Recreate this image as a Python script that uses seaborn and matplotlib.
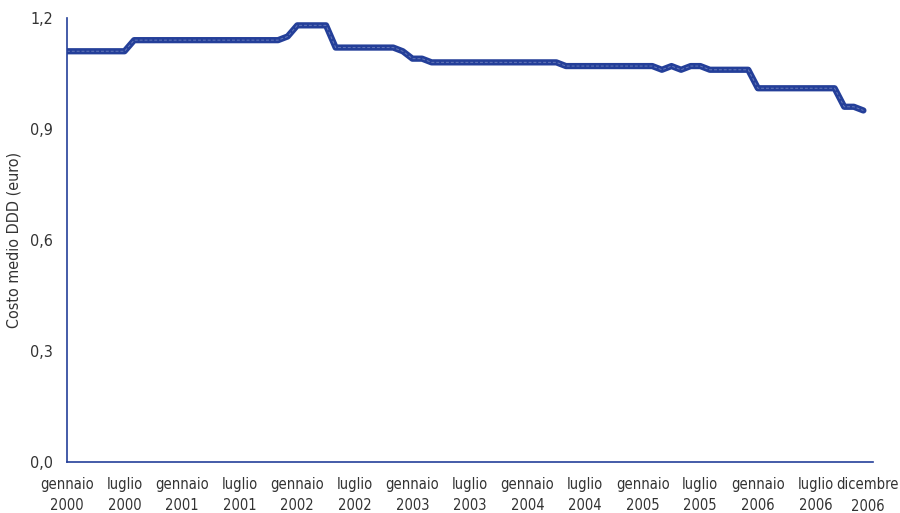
import seaborn as sns
import pandas as pd
import matplotlib.pyplot as plt

# Monthly average cost per DDD, Jan 2000 - Dec 2006
months = list(range(84))
cost = ([1.11] * 7 + [1.14] * 16 + [1.15] + [1.18] * 4 + [1.12] * 7 + [1.11]
        + [1.09] * 2 + [1.08] * 14 + [1.07] * 10 + [1.06, 1.07, 1.06, 1.07, 1.07]
        + [1.06] * 5 + [1.01] * 9 + [0.96, 0.96, 0.95])

tick_pos = list(range(0, 85, 6))
tick_labels = ['gennaio\n2000', 'luglio\n2000', 'gennaio\n2001', 'luglio\n2001',
               'gennaio\n2002', 'luglio\n2002', 'gennaio\n2003', 'luglio\n2003',
               'gennaio\n2004', 'luglio\n2004', 'gennaio\n2005', 'luglio\n2005',
               'gennaio\n2006', 'luglio\n2006', 'dicembre\n2006']
y_ticks = [0, 0.3, 0.6, 0.9, 1.2]
y_labels = ['0,0', '0,3', '0,6', '0,9', '1,2']

df = pd.DataFrame({'mese': months, 'costo': cost})

sns.set_style('white')
plt.rcParams['font.family'] = ['DejaVu Sans']
plt.rcParams['font.stretch'] = 'condensed'

blue = '#243f99'
txt = '#333333'
fig = plt.figure(figsize=(9, 5.13), dpi=100)
ax = fig.add_axes([0.0744, 0.0994, 0.8956, 0.8656])

sns.lineplot(x='mese', y='costo', data=df, ax=ax, color=blue,
             linewidth=4.5, solid_capstyle='round', solid_joinstyle='round')
# lighter dashed core seen in the original rendering
ax.plot(df['mese'], df['costo'], color='#6578b8', linewidth=0.7,
        linestyle=(0, (3, 2)))

ax.set_xlim(0, 84)
ax.set_ylim(0, 1.2)
ax.set_xticks(tick_pos)
ax.set_xticklabels(tick_labels[:-1] + [''], fontsize=10.5, color=txt, linespacing=1.45)
# last label drawn separately, nudged left so it stays inside the figure
ax.annotate(tick_labels[-1], xy=(tick_pos[-1], 0), xycoords='data',
            xytext=(-4, -11), textcoords='offset points', ha='center', va='top',
            fontsize=10.5, color=txt, linespacing=1.6, annotation_clip=False)
ax.set_yticks(y_ticks)
ax.set_yticklabels(y_labels, fontsize=11.5, color=txt)
ax.set_xlabel('')
ax.set_ylabel('Costo medio DDD (euro)', fontsize=11.5, color=txt, labelpad=6)

sns.despine(ax=ax)
for s in ['left', 'bottom']:
    ax.spines[s].set_color(blue)
    ax.spines[s].set_linewidth(1.2)
ax.tick_params(axis='both', direction='out', length=7, width=1.2, color=blue)
ax.tick_params(axis='x', pad=4)
ax.tick_params(axis='y', pad=3)

plt.savefig('out.png', dpi=100)
